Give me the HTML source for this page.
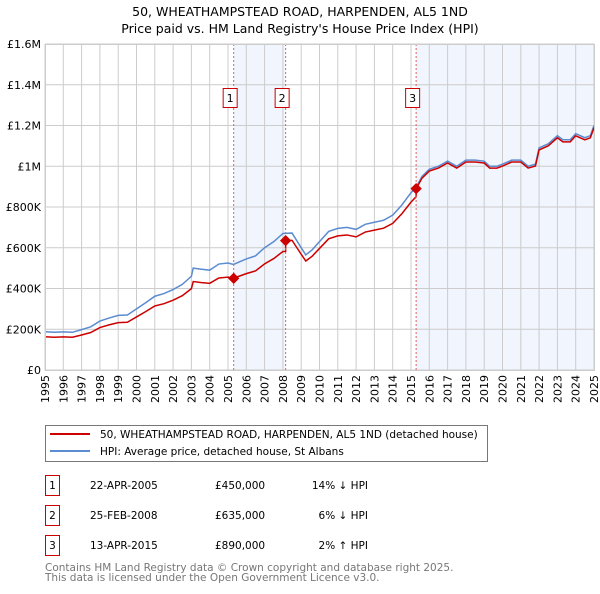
<!DOCTYPE html>
<html><head><meta charset="utf-8">
<style>
body{margin:0;background:#fff;width:600px;height:590px;overflow:hidden;font-family:"DejaVu Sans","Liberation Sans",sans-serif;}
svg text{font-family:"DejaVu Sans","Liberation Sans",sans-serif;}
</style></head>
<body>
<svg id="chart" width="600" height="590" xmlns="http://www.w3.org/2000/svg">
<text x="300" y="16" text-anchor="middle" font-size="12.5" fill="#000">50, WHEATHAMPSTEAD ROAD, HARPENDEN, AL5 1ND</text>
<text x="300" y="33" text-anchor="middle" font-size="12.5" fill="#000">Price paid vs. HM Land Registry's House Price Index (HPI)</text>
<g id="plot"></g>
<g>
<rect x="45.5" y="425.5" width="442" height="36" fill="#fff" stroke="#777"/>
<line x1="50" y1="434" x2="90" y2="434" stroke="#cc0000" stroke-width="2"/>
<text x="100" y="438" font-size="10.5">50, WHEATHAMPSTEAD ROAD, HARPENDEN, AL5 1ND (detached house)</text>
<line x1="50" y1="451" x2="90" y2="451" stroke="#5b8bd0" stroke-width="2"/>
<text x="100" y="455" font-size="10.5">HPI: Average price, detached house, St Albans</text>
</g>
<g id="table"></g>
<text x="45" y="571" font-size="10.5" fill="#777">Contains HM Land Registry data © Crown copyright and database right 2025.</text>
<text x="45" y="581" font-size="10.5" fill="#777">This data is licensed under the Open Government Licence v3.0.</text>
</svg>
<script>
const yearTicks=[1995,1996,1997,1998,1999,2000,2001,2002,2003,2004,2005,2006,2007,2008,2009,2010,2011,2012,2013,2014,2015,2016,2017,2018,2019,2020,2021,2022,2023,2024,2025];
const valueTicks=[0,200000,400000,600000,800000,1000000,1200000,1400000,1600000];
const valueTickLabels=["£0","£200K","£400K","£600K","£800K","£1M","£1.2M","£1.4M","£1.6M"];
const hpiDates=[1995,1995.5,1996,1996.5,1997,1997.5,1998,1998.5,1999,1999.5,2000,2000.5,2001,2001.5,2002,2002.5,2003,2003.1,2003.5,2004,2004.5,2005,2005.3,2005.6,2006,2006.5,2007,2007.5,2008,2008.5,2009,2009.25,2009.6,2010,2010.5,2011,2011.5,2012,2012.5,2013,2013.5,2014,2014.5,2015,2015.3,2015.6,2016,2016.5,2017,2017.5,2018,2018.5,2019,2019.3,2019.7,2020,2020.5,2021,2021.4,2021.8,2022,2022.5,2023,2023.3,2023.7,2024,2024.5,2024.8,2025];
const hpiValues=[188000,185000,187000,185000,198000,212000,240000,255000,268000,270000,300000,330000,362000,375000,395000,420000,460000,500000,495000,490000,520000,525000,518000,530000,545000,560000,600000,630000,670000,672000,600000,565000,590000,630000,680000,695000,700000,690000,715000,725000,735000,760000,810000,870000,900000,950000,985000,1000000,1025000,1000000,1030000,1030000,1025000,1000000,1000000,1010000,1030000,1030000,1000000,1010000,1090000,1110000,1150000,1130000,1130000,1160000,1140000,1150000,1200000];
const saleDates=[2005.31,2008.15,2015.28];
const salePrices=[450000,635000,890000];
const saleLabels=["1","2","3"];
const saleDateText=["22-APR-2005","25-FEB-2008","13-APR-2015"];
const salePriceText=["£450,000","£635,000","£890,000"];
const saleHpiText=["14% ↓ HPI","6% ↓ HPI","2% ↑ HPI"];

const NS="http://www.w3.org/2000/svg";
const L=45,R=594,T=44,B=370;
const X=t=>L+(t-1995)/30*(R-L);
const Y=v=>B-v/1600000*(B-T);
function mk(tag,attrs,parent){const e=document.createElementNS(NS,tag);for(const k in attrs)e.setAttribute(k,attrs[k]);parent.appendChild(e);return e;}
const plot=document.getElementById('plot');
function hpiAt(t){for(let i=0;i<hpiDates.length-1;i++){if(t<=hpiDates[i+1]){const f=(t-hpiDates[i])/(hpiDates[i+1]-hpiDates[i]);return hpiValues[i]+f*(hpiValues[i+1]-hpiValues[i]);}}return hpiValues[hpiValues.length-1];}
// shaded
const sh1=mk('rect',{x:X(saleDates[0]),y:T,width:X(saleDates[1])-X(saleDates[0]),height:B-T,fill:'#eef3fc',opacity:0.8},plot);


const sh2=mk('rect',{x:X(saleDates[2]),y:T,width:R-X(saleDates[2]),height:B-T,fill:'#eef3fc',opacity:0.8},plot);


// grid
yearTicks.forEach(y=>{const g=mk('line',{x1:X(y),x2:X(y),y1:T,y2:B,stroke:'#cccccc','stroke-width':1},plot);


const t=mk('text',{x:0,y:0,transform:`translate(${X(y)+4},${B+5}) rotate(-90)`,'text-anchor':'end','font-size':11},plot);t.textContent=y;

});
valueTicks.forEach((v,i)=>{const g=mk('line',{x1:L,x2:R,y1:Y(v),y2:Y(v),stroke:'#cccccc','stroke-width':1},plot);


const t=mk('text',{x:L-4,y:Y(v)+4,'text-anchor':'end','font-size':11},plot);t.textContent=valueTickLabels[i];

});
// hpi line
const hp=mk('polyline',{points:hpiDates.map((d,i)=>X(d)+','+Y(hpiValues[i])).join(' '),fill:'none',stroke:'#5b8bd0','stroke-width':1.5},plot);


// property line: indexed from sales
function propAt(t){let k=0;for(let i=0;i<saleDates.length;i++)if(t>=saleDates[i])k=i;return salePrices[k]*hpiAt(t)/hpiAt(saleDates[k]);}
const pts=[];hpiDates.forEach(d=>{pts.push(d);});saleDates.forEach(d=>{pts.push(d-0.001);pts.push(d);});pts.sort((a,b)=>a-b);
const pp=mk('polyline',{points:pts.map(d=>X(d)+','+Y(propAt(d))).join(' '),fill:'none',stroke:'#cc0000','stroke-width':1.5},plot);


// sale markers
saleDates.forEach((d,i)=>{
const vl=mk('line',{x1:X(d),x2:X(d),y1:T,y2:B,stroke:'#e06060','stroke-width':1,'stroke-dasharray':'2,2'},plot);


const m=mk('rect',{x:X(d)-4,y:Y(salePrices[i])-4,width:8,height:8,fill:'#cc0000',transform:`rotate(45 ${X(d)} ${Y(salePrices[i])})`},plot);


const b=mk('rect',{x:X(d)-10.5,y:88.5,width:14,height:19,fill:'#fff',stroke:'#cc0000'},plot);


const t=mk('text',{x:X(d)-3.5,y:102,'text-anchor':'middle','font-size':11},plot);t.textContent=saleLabels[i];

});
mk('rect',{x:L+0.5,y:T+0.5,width:R-L,height:B-T,fill:'none',stroke:'#ccc'},plot);
// table
const tb=document.getElementById('table');
saleLabels.forEach((s,i)=>{const y=475+i*30;
const b=mk('rect',{x:45.5,y:y+0.5,width:14,height:20,fill:'#fff',stroke:'#cc0000'},tb);


const cells=[[52.5,'middle',s,'row-number'],[90,'start',saleDateText[i],'row-date'],[215,'start',salePriceText[i],'row-price'],[368,'end',saleHpiText[i],'row-hpi-diff']];
cells.forEach(c=>{const t=mk('text',{x:c[0],y:y+14,'text-anchor':c[1],'font-size':10.5},tb);t.textContent=c[2];

});});
</script>
</body></html>
